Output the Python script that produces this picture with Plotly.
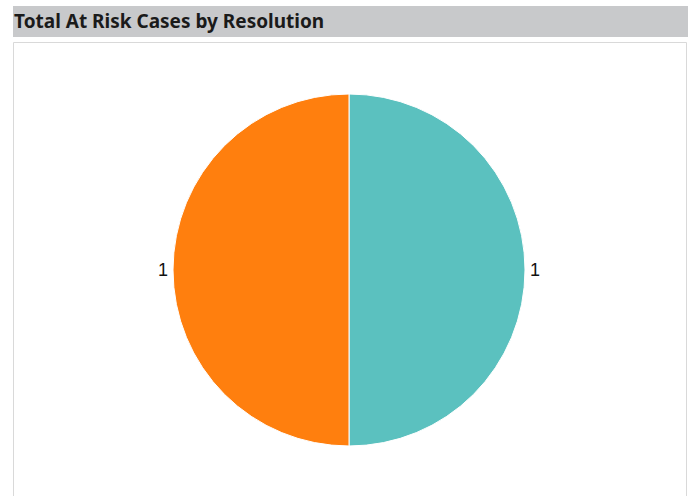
import plotly.graph_objects as go

W, H = 694, 496

categories = ["Unresolved", "Resolved"]
values = [1, 1]
colors = ["#5bc1bf", "#ff7f0e"]
title_text = "Total At Risk Cases by Resolution"

def px_x(x):
    return x / W

def px_y(y):
    return 1 - y / H

fig = go.Figure()
fig.add_trace(go.Pie(
    labels=categories,
    values=values,
    marker=dict(colors=colors, line=dict(color="#ffffff", width=1)),
    textinfo="value",
    textposition="outside",
    textfont=dict(family="Liberation Sans, Arial, sans-serif", size=18, color="#111111"),
    sort=False,
    showlegend=False,
    hoverinfo="label+value",
    domain=dict(x=[px_x(349 - 260), px_x(349 + 260)], y=[px_y(446), px_y(94)]),
))

fig.update_layout(
    width=W, height=H,
    margin=dict(l=0, r=0, t=0, b=0, pad=0, autoexpand=False),
    paper_bgcolor="#ffffff",
    plot_bgcolor="#ffffff",
    shapes=[
        dict(type="rect", xref="paper", yref="paper",
             x0=px_x(13), x1=px_x(688), y0=px_y(37), y1=px_y(6),
             fillcolor="#c8c9cb", line=dict(width=0), layer="below"),
        dict(type="rect", xref="paper", yref="paper",
             x0=px_x(13.5), x1=px_x(686.5), y0=px_y(520), y1=px_y(42.5),
             fillcolor="rgba(0,0,0,0)", line=dict(color="#d9d9d9", width=1), layer="below"),
    ],
    annotations=[
        dict(text="<b>" + title_text + "</b>", xref="paper", yref="paper",
             x=px_x(12), y=px_y(21.5), xanchor="left", yanchor="middle",
             showarrow=False,
             font=dict(family="Noto Sans, DejaVu Sans, sans-serif", size=19, color="#1a1a1a")),
    ],
)

fig.write_html("out.html")
